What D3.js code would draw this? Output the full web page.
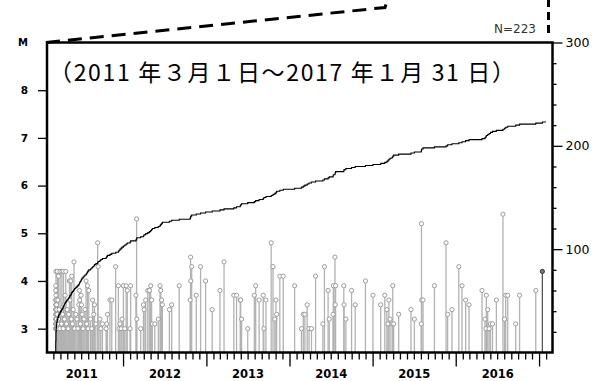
<!DOCTYPE html>
<html>
<head>
<meta charset="utf-8">
<script src="https://cdn.jsdelivr.net/npm/d3@7"></script>
<style>
  html, body { margin: 0; padding: 0; background: #fff; }
  svg { display: block; }
</style>
</head>
<body>
<svg id="chart" width="595" height="381"></svg>
<script>
// Earthquakes per year: [day of year, magnitude]
const quakes2011 = [
  [70,3.9],[70,3.0],[70,3.2],[70,3.5],[70,3.1],[70,3.3],[70,3.6],[70,3.0],[70,3.4],[70,3.8],[70,3.1],
  [71,4.2],[71,3.2],[71,3.0],[71,3.7],[71,3.3],[71,3.1],[71,3.5],[71,3.0],[71,3.4],
  [72,3.0],[72,3.3],[72,3.6],[72,3.1],[73,3.2],[73,3.0],[73,3.5],[74,3.1],[74,3.4],
  [76,3.3],[76,3.0],[77,4.2],[79,3.6],[79,3.1],[82,4.1],[82,3.2],[85,3.4],[88,3.0],[89,4.2],
  [91,3.3],[95,3.1],[97,4.2],[100,3.3],[103,3.0],[104,4.2],[106,3.5],[108,3.2],[111,3.7],
  [114,4.2],[117,3.1],[120,3.4],[124,3.0],[127,3.3],[130,4.0],[132,3.6],[136,4.0],[138,3.2],
  [140,4.1],[143,3.1],[147,3.4],[150,4.4],[153,3.0],[158,3.3],[163,3.2],[167,3.0],[171,3.5],
  [174,3.8],[175,3.6],[178,3.1],[181,3.7],[183,3.5],[186,3.3],[190,3.0],[194,3.2],[198,3.4],
  [203,4.0],[206,3.1],[209,3.9],[212,3.0],[215,3.8],[223,3.2],[228,3.0],[232,3.6],[237,3.3],
  [240,3.5],[246,3.1],[254,4.8],[256,4.3],[264,3.2],[268,3.0],[275,3.1],[291,3.0],[294,3.1],
  [297,3.3],[308,3.6],[316,3.6],[333,4.3],[345,3.9],[348,3.0],[352,3.1],[357,3.0],[361,3.2]
];
const quakes2012 = [
  [2,3.9],[8,3.0],[14,3.9],[19,3.8],[31,3.0],[34,3.9],[57,3.7],[60,5.3],[61,3.2],[78,3.0],
  [90,3.5],[93,3.4],[100,3.6],[109,3.8],[116,3.8],[122,3.9],[126,3.6],[129,3.1],[140,3.1],
  [155,3.2],[163,3.9],[166,3.8],[170,3.6],[173,3.5],[204,3.4],[214,3.5],[247,3.9],[295,3.6],
  [297,4.5],[298,4.0],[302,4.3],[322,3.7],[341,4.3],[363,4.0]
];
const quakes2013 = [
  [26,3.4],[60,3.8],[78,4.4],[121,3.7],[133,3.7],[149,3.6],[151,3.6],[155,3.2],[182,3.0],
  [211,3.7],[217,3.9],[232,3.6],[250,3.7],[253,3.0],[262,3.6],[285,4.8],[293,4.3],[301,3.2],
  [306,3.6],[309,3.3],[323,4.1],[338,4.1]
];
const quakes2014 = [
  [23,3.9],[53,3.0],[61,3.3],[68,3.3],[78,3.5],[86,3.0],[97,3.0],[115,4.1],[147,3.1],[154,4.3],
  [170,3.8],[175,3.2],[192,3.3],[193,3.9],[200,4.5],[201,3.5],[203,3.9],[239,3.9],[240,3.5],
  [248,3.2],[273,3.8],[289,3.5],[334,4.0]
];
const quakes2015 = [
  [2,3.7],[36,3.5],[54,3.7],[63,3.4],[68,3.1],[72,3.6],[77,3.2],[86,3.1],[89,3.9],[93,3.1],
  [115,3.3],[169,3.4],[184,3.2],[214,3.1],[215,5.2],[216,3.6],[222,3.6],[272,3.9],[323,4.8],
  [330,3.3],[349,3.4]
];
const quakes2016 = [
  [14,4.3],[28,3.9],[44,3.6],[59,3.5],[116,3.8],[129,3.2],[133,3.0],[135,3.7],[141,3.4],
  [147,3.0],[153,3.1],[162,3.1],[179,3.6],[208,5.4],[215,3.2],[220,3.7],[229,3.7],[264,3.1],
  [281,3.7],[352,3.8]
];
const quakes2017 = [
  [15,4.2]
];

const magTicks = [3, 4, 5, 6, 7, 8];
const countTicks = [100, 200, 300];
const yearLabels = [2011, 2012, 2013, 2014, 2015, 2016];
const titleText = "（2011 年３月１日～2017 年１月 31 日）";
const countLabel = "N=223";

// ---- layout ----
const xLeft = 47, xRight = 552.5, yTop = 42.5, yBottom = 352.5;
const svg = d3.select("#chart");

const x = d3.scaleTime()
  .domain([new Date(2011, 1, 1), new Date(2017, 2, 1)])
  .range([xLeft, xRight]);
const yM = d3.scaleLinear().domain([2.5, 9]).range([yBottom, yTop]);
const yN = d3.scaleLinear().domain([0, 300]).range([yBottom, yTop]);

const byYear = [
  [2011, quakes2011], [2012, quakes2012], [2013, quakes2013], [2014, quakes2014],
  [2015, quakes2015], [2016, quakes2016], [2017, quakes2017]
];
const events = [];
byYear.forEach(([yr, list]) => list.forEach(([doy, m]) =>
  events.push({ date: new Date(yr, 0, doy, 12), mag: m })));
events.sort((a, b) => a.date - b.date);
const latestStart = new Date(2017, 0, 1);

// ---- stems and heads ----
const r = 2.1;
const stems = svg.append("g");
stems.selectAll("line").data(events).join("line")
  .attr("x1", d => x(d.date)).attr("x2", d => x(d.date))
  .attr("y1", yBottom).attr("y2", d => yM(d.mag) + r)
  .attr("stroke", d => d.date >= latestStart ? "#555" : "#b2b2b2")
  .attr("stroke-width", 1.3);
stems.selectAll("circle").data(events).join("circle")
  .attr("cx", d => x(d.date)).attr("cy", d => yM(d.mag)).attr("r", r)
  .attr("fill", d => d.date >= latestStart ? "#777" : "#fff")
  .attr("stroke", d => d.date >= latestStart ? "#333" : "#9c9c9c")
  .attr("stroke-width", 1);

// ---- cumulative count ----
const cum = [{ date: new Date(2011, 2, 1), n: 0 }]
  .concat(events.map((d, i) => ({ date: d.date, n: i + 1 })))
  .concat([{ date: new Date(2017, 0, 31), n: events.length }]);
svg.append("path")
  .datum(cum)
  .attr("fill", "none").attr("stroke", "#000").attr("stroke-width", 1.1)
  .attr("d", d3.line().x(d => x(d.date)).y(d => yN(d.n)).curve(d3.curveStepAfter));

// ---- axes ----
function styleAxis(g, size, weight) {
  g.select(".domain").remove();
  g.attr("font-family", "DejaVu Sans").attr("font-size", size).attr("font-weight", weight);
  g.selectAll(".tick line").attr("stroke", "#000").attr("stroke-width", 1.3);
  g.selectAll(".tick text").attr("fill", "#000");
}

svg.append("g").attr("transform", `translate(${xLeft},0)`)
  .call(d3.axisLeft(yM).tickValues(magTicks).tickSize(9).tickPadding(10).tickFormat(d3.format("d")))
  .call(g => styleAxis(g, 10.5, "bold"));
svg.append("text").attr("x", 28).attr("y", yTop).attr("dy", "0.35em")
  .attr("text-anchor", "end").attr("font-family", "DejaVu Sans").attr("font-weight", "bold")
  .attr("font-size", 10).text("M");

svg.append("g").attr("transform", `translate(${xRight},0)`)
  .call(d3.axisRight(yN).tickValues(countTicks).tickSize(10).tickPadding(3))
  .call(g => styleAxis(g, 12.5, "normal"));
svg.append("g").attr("transform", `translate(${xRight},0)`)
  .call(d3.axisRight(yN).tickValues(d3.range(20, 300, 20).filter(v => v % 100)).tickSize(4).tickFormat(""))
  .call(g => styleAxis(g, 10, "normal"));

const months = d3.timeMonth.range(new Date(2011, 2, 1), new Date(2017, 2, 1))
  .filter(d => d.getMonth() !== 0);
const years = d3.timeYear.range(new Date(2012, 0, 1), new Date(2017, 0, 2));
svg.append("g").attr("transform", `translate(0,${yBottom})`)
  .call(d3.axisBottom(x).tickValues(months).tickSize(7).tickFormat(""))
  .call(g => styleAxis(g, 10, "normal"));
svg.append("g").attr("transform", `translate(0,${yBottom})`)
  .call(d3.axisBottom(x).tickValues(years).tickSize(14).tickFormat(""))
  .call(g => styleAxis(g, 10, "normal"));
svg.append("g").attr("transform", `translate(0,${yBottom})`)
  .call(d3.axisBottom(x).tickValues(yearLabels.map(y => new Date(y, 6, 1))).tickSize(0).tickPadding(17)
    .tickFormat(d3.timeFormat("%Y")))
  .call(g => styleAxis(g, 11.5, "bold"));

// ---- frame ----
svg.append("rect")
  .attr("x", xLeft).attr("y", yTop).attr("width", xRight - xLeft).attr("height", yBottom - yTop)
  .attr("fill", "none").attr("stroke", "#000").attr("stroke-width", 2.5);

// ---- connector lines toward the area above ----
const dashed = d3.line();
svg.append("path")
  .attr("d", dashed([[xLeft - 1, yTop], [385, 7.5], [388, -2]]))
  .attr("fill", "none").attr("stroke", "#000").attr("stroke-width", 3)
  .attr("stroke-dasharray", "14,8");
svg.append("path")
  .attr("d", dashed([[548.5, -1], [548.5, 34]]))
  .attr("fill", "none").attr("stroke", "#000").attr("stroke-width", 3)
  .attr("stroke-dasharray", "8,5");

// ---- labels ----
svg.append("text")
  .attr("x", 49).attr("y", 81)
  .attr("font-family", "Noto Sans CJK JP").attr("font-size", 23)
  .attr("textLength", 466).attr("lengthAdjust", "spacing")
  .attr("fill", "#000").text(titleText);

svg.append("text")
  .attr("x", 536).attr("y", 33).attr("text-anchor", "end")
  .attr("font-family", "DejaVu Sans").attr("font-size", 12).attr("fill", "#333")
  .text(countLabel);
</script>
</body>
</html>
